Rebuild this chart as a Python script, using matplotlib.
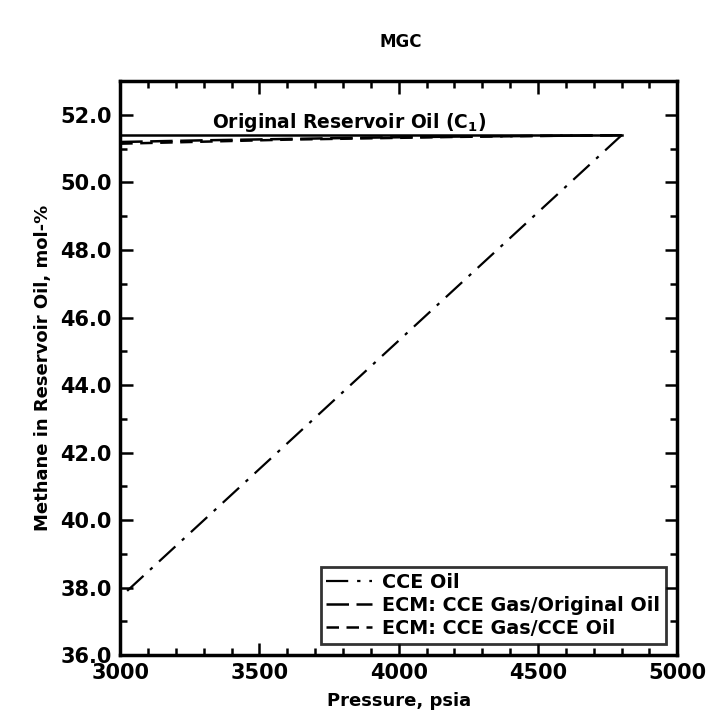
import numpy as np
import matplotlib.pyplot as plt
from matplotlib.ticker import MultipleLocator, FormatStrFormatter

# pressure (psia) and methane content (mol-%)
p_cce = [3025, 4800]
c1_cce = [37.9, 51.4]

p_orig = [3000, 4800]
c1_orig = [51.4, 51.4]

p_ecm = [3000, 3300, 3600, 3900, 4200, 4500, 4800]
c1_ecm_orig = [51.20, 51.25, 51.29, 51.33, 51.36, 51.38, 51.40]
c1_ecm_cce = [51.15, 51.21, 51.27, 51.31, 51.35, 51.38, 51.40]

plt.rcParams['font.family'] = 'DejaVu Sans'
plt.rcParams['font.weight'] = 'bold'

fig = plt.figure(figsize=(7.07, 7.19), dpi=100)
ax = fig.add_axes([0.170, 0.089, 0.788, 0.798])

ax.plot(p_orig, c1_orig, color='black', lw=1.8)
ax.plot(p_cce, c1_cce, color='black', lw=1.6, ls=(0, (10, 4, 1.5, 4)), label='CCE Oil')
ax.plot(p_ecm, c1_ecm_orig, color='black', lw=1.8, ls=(0, (9, 3)),
        label='ECM: CCE Gas/Original Oil')
ax.plot(p_ecm, c1_ecm_cce, color='black', lw=1.8, ls=(0, (5, 3)),
        label='ECM: CCE Gas/CCE Oil')

ax.text(3330, 51.6, 'Original Reservoir Oil (C$_1$)', fontsize=13.5, fontweight='bold')

ax.set_xlim(3000, 5000)
ax.set_ylim(36, 53)
ax.xaxis.set_major_locator(MultipleLocator(500))
ax.xaxis.set_minor_locator(MultipleLocator(100))
ax.yaxis.set_major_locator(MultipleLocator(2))
ax.yaxis.set_minor_locator(MultipleLocator(1))
ax.yaxis.set_major_formatter(FormatStrFormatter('%.1f'))
ax.tick_params(which='both', direction='in', top=True, right=True, width=1.8)
ax.tick_params(which='major', length=9, labelsize=15, pad=6)
ax.tick_params(which='minor', length=5)
for s in ax.spines.values():
    s.set_linewidth(2.5)

ax.set_xlabel('Pressure, psia', fontsize=13, fontweight='bold', labelpad=6)
ax.set_ylabel('Methane in Reservoir Oil, mol-%', fontsize=13, fontweight='bold', labelpad=6)
fig.text(0.567, 0.935, 'MGC', fontsize=12, fontweight='bold', ha='center')

leg = ax.legend(loc='lower right', fontsize=13.8, frameon=True, fancybox=False,
                edgecolor='black', handlelength=2.4, borderaxespad=0.6,
                labelspacing=0.2, handletextpad=0.5, borderpad=0.3)
leg.get_frame().set_linewidth(2)

fig.savefig('out.png', dpi=100)
